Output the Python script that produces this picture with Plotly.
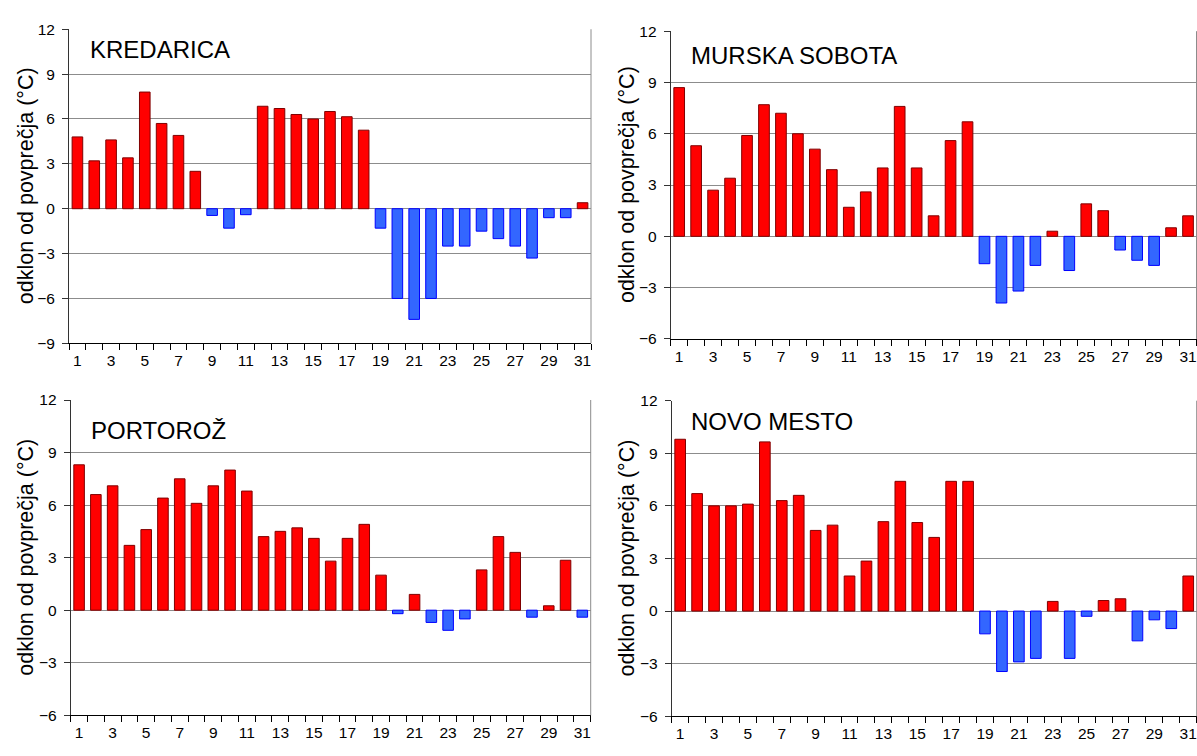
import plotly.graph_objects as go

days = list(range(1, 32))
stations = ["KREDARICA", "MURSKA SOBOTA", "PORTOROŽ", "NOVO MESTO"]

kredarica = [4.8, 3.2, 4.6, 3.4, 7.8, 5.7, 4.9, 2.5, -0.45, -1.3, -0.4, 6.85, 6.7, 6.3, 6.0, 6.5,
             6.15, 5.25, -1.3, -6.0, -7.4, -6.0, -2.5, -2.5, -1.5, -2.0, -2.5, -3.3, -0.6, -0.6, 0.4]
murska_sobota = [8.7, 5.3, 2.7, 3.4, 5.9, 7.7, 7.2, 6.0, 5.1, 3.9, 1.7, 2.6, 4.0, 7.6, 4.0, 1.2,
                 5.6, 6.7, -1.6, -3.9, -3.2, -1.7, 0.3, -2.0, 1.9, 1.5, -0.8, -1.4, -1.7, 0.5, 1.2]
portoroz = [8.3, 6.6, 7.1, 3.7, 4.6, 6.4, 7.5, 6.1, 7.1, 8.0, 6.8, 4.2, 4.5, 4.7, 4.1, 2.8,
            4.1, 4.9, 2.0, -0.2, 0.9, -0.7, -1.15, -0.5, 2.3, 4.2, 3.3, -0.4, 0.25, 2.85, -0.4]
novo_mesto = [9.8, 6.7, 6.0, 6.0, 6.1, 9.65, 6.3, 6.6, 4.6, 4.9, 2.0, 2.85, 5.1, 7.4, 5.05, 4.2,
              7.4, 7.4, -1.3, -3.45, -2.9, -2.7, 0.55, -2.7, -0.3, 0.6, 0.7, -1.7, -0.5, -1.0, 2.0]

series = [kredarica, murska_sobota, portoroz, novo_mesto]
y_ranges = [(-9, 12), (-6, 12), (-6, 12), (-6, 12)]
y_title = "odklon od povprečja (°C)"
x_tick_labels = [str(d) for d in range(1, 32, 2)]

W, H = 1197, 756
# plot areas in pixels: (left, right, top, bottom)
boxes = [(69, 591, 20.7, 342), (670.7, 1196.5, 22.7, 337.5),
         (70.7, 590.7, 400, 722.5), (671.7, 1196.7, 400.7, 723.5)]
label_pos = [(88, 41), (689, 48), (89, 431), (689, 422)]
title_x = [26, 627, 26, 627]

FONT = "Liberation Sans, Arial, sans-serif"
fig = go.Figure()
layout = dict(width=W, height=H, margin=dict(l=0, r=0, t=0, b=0),
              paper_bgcolor="white", plot_bgcolor="white", showlegend=False,
              font=dict(family=FONT, color="black", size=15.5))
annotations, shapes = [], []

for i, (vals, (lo, hi), box) in enumerate(zip(series, y_ranges, boxes)):
    n = "" if i == 0 else str(i + 1)
    xa, ya = "x" + n, "y" + n
    pos = [v >= 0 for v in vals]
    fig.add_trace(go.Bar(x=days, y=vals, xaxis=xa, yaxis=ya, width=0.63,
                         marker=dict(color=["#ff0000" if p else "#3366ff" for p in pos],
                                     line=dict(color=["#800000" if p else "#0000ff" for p in pos], width=1))))
    l, r, t, b = box
    layout["xaxis" + n] = dict(domain=[l / W, r / W], anchor=ya, range=[0.5, 31.5],
                               tickmode="array", tickvals=list(range(1, 32, 2)), ticktext=x_tick_labels,
                               ticks="", showgrid=False, zeroline=False,
                               showline=True, linecolor="black", linewidth=1,
                               tickfont=dict(size=15.5), ticklabelstandoff=3,
                               minor=dict(tickmode="array", tickvals=[d + 0.5 for d in range(0, 32)],
                                          ticks="outside", ticklen=6, tickcolor="black", tickwidth=1,
                                          showgrid=False))
    layout["yaxis" + n] = dict(domain=[1 - b / H, 1 - t / H], anchor=xa, range=[lo, hi],
                               tickmode="linear", tick0=0, dtick=3,
                               ticks="outside", ticklen=6, tickcolor="#333333",
                               showline=True, linecolor="#333333", linewidth=1,
                               showgrid=True, gridcolor="#8c8c8c", gridwidth=1,
                               zeroline=True, zerolinecolor="#8c8c8c", zerolinewidth=1,
                               tickfont=dict(size=15.5), ticklabelstandoff=4)
    # right border
    shapes.append(dict(type="line", xref=xa + " domain", yref=ya + " domain",
                       x0=1, x1=1, y0=0, y1=1, line=dict(color="#8c8c8c", width=1)))
    lx, ly = label_pos[i]
    annotations.append(dict(text=stations[i], xref="paper", yref="paper", x=lx / W, y=1 - ly / H,
                            xanchor="left", yanchor="middle", showarrow=False,
                            font=dict(size=24, family=FONT, color="black")))
    annotations.append(dict(text=y_title, xref="paper", yref="paper", x=title_x[i] / W,
                            y=1 - (t + b) / 2 / H, textangle=-90, xanchor="center", yanchor="middle",
                            showarrow=False, font=dict(size=21.5, family=FONT, color="black")))

layout["annotations"] = annotations
layout["shapes"] = shapes
fig.update_layout(**layout)
fig.write_html("out.html")
